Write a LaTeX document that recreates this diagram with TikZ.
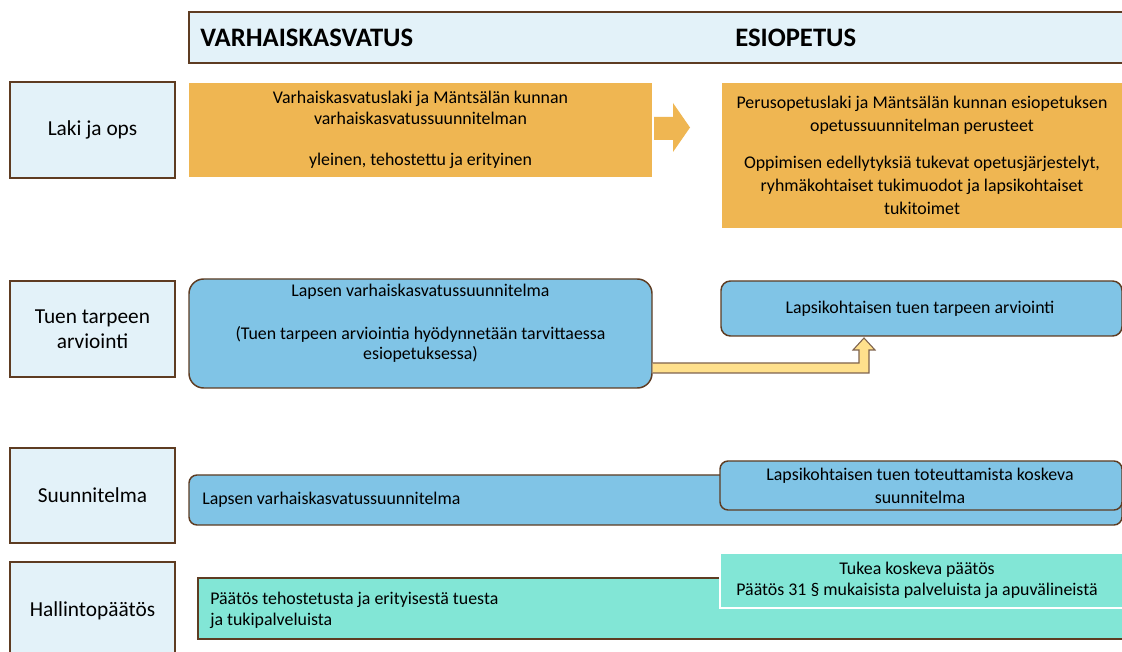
\documentclass[tikz,border=0pt]{standalone}
\usepackage{fontspec}
\setmainfont{Carlito}
\definecolor{hdr}{HTML}{E3F2F9}
\definecolor{org}{HTML}{EFB652}
\definecolor{blu}{HTML}{80C4E6}
\definecolor{tea}{HTML}{82E6D6}
\definecolor{yel}{HTML}{FFE08C}
\definecolor{brn}{HTML}{5E3C22}
\begin{document}
\begin{tikzpicture}[x=0.75pt,y=-0.75pt,
  lab/.style={draw=brn,fill=hdr,line width=1.1pt,inner sep=0pt,minimum width=123.75pt,
    align=center,font=\fontsize{16}{19}\selectfont},
  obox/.style={fill=org,inner sep=0pt},
  bbox/.style={draw=brn,fill=blu,line width=1.1pt,inner sep=0pt},
  tbox/.style={fill=tea,inner sep=0pt},
  body/.style={font=\fontsize{13.4}{17}\selectfont,inner sep=0pt},
  head/.style={font=\fontsize{20}{22}\selectfont\bfseries,inner sep=0pt,anchor=west}]
\useasboundingbox (0,0) rectangle (1122,652);
\clip (0,0) rectangle (1122,652);
\fill[white] (0,0) rectangle (1122,652);
% header
\node[draw=brn,fill=hdr,line width=1.1pt,inner sep=0pt,minimum width=705.75pt,minimum height=38.25pt] (hdr) at (659.5,37.5) {};
\node[head] (hv) at (200,38) {VARHAISKASVATUS};
\node[head] (he) at (735,38) {ESIOPETUS};
% left labels
\node[lab,minimum height=72pt] (L1) at (92.5,130) {Laki ja ops};
\node[lab,minimum height=72pt] (L2) at (92.5,329) {Tuen tarpeen\\arviointi};
\node[lab,minimum height=71.25pt] (L3) at (92.5,495.5) {Suunnitelma};
\node[lab,minimum height=73.5pt] (L4) at (92.5,611) {Hallintopäätös};
% row 1
\node[obox,minimum width=347.25pt,minimum height=70.5pt] (O1) at (420.5,130) {};
\node[body,align=center,font=\fontsize{13.4}{15.5}\selectfont] (O1t) at (420.5,130)
  {Varhaiskasvatuslaki ja Mäntsälän kunnan\\varhaiskasvatussuunnitelman\\[15.5pt]yleinen, tehostettu ja erityinen};
\fill[org] (654,117) -- (673,117) -- (673,103) -- (690,127.5) -- (673,152) -- (673,140) -- (654,140) -- cycle;
\node[obox,minimum width=300pt,minimum height=108.75pt] (O2) at (922,155.5) {};
\node[body,align=center] (O2t) at (922,155.5)
  {Perusopetuslaki ja Mäntsälän kunnan esiopetuksen\\opetussuunnitelman perusteet\\[11pt]Oppimisen edellytyksiä tukevat opetusjärjestelyt,\\ryhmäkohtaiset tukimuodot ja lapsikohtaiset\\tukitoimet};
% row 2
\node[bbox,rounded corners=11pt,minimum width=347.25pt,minimum height=81.75pt] (B1) at (420.5,333.5) {};
\node[body,align=center,font=\fontsize{13.4}{15}\selectfont] (B1t) at (420.5,323.5)
  {Lapsen varhaiskasvatussuunnitelma\\[17pt](Tuen tarpeen arviointia hyödynnetään tarvittaessa\\esiopetuksessa)};
\node[bbox,rounded corners=7pt,minimum width=300.75pt,minimum height=41.25pt] (B2) at (921.5,308.5) {};
\node[body] (B2t) at (920,309) {Lapsikohtaisen tuen tarpeen arviointi};
\coordinate (ys) at (B1.east |- 0,363);
\coordinate (ye) at (B1.east |- 0,373);
\draw[fill=yel,draw=brn!80,line width=0.8pt,line join=miter]
  (ys) -- (859,363) -- (859,350) -- (853,350) -- (864,338) -- (875,350) -- (869,350) -- (869,373) -- (ye);
% row 3
\node[bbox,rounded corners=6pt,minimum width=699.75pt,minimum height=37.5pt] (B3) at (655.5,500) {};
\node[body,anchor=west] (B3t) at (202,500) {Lapsen varhaiskasvatussuunnitelma};
\node[bbox,rounded corners=6pt,minimum width=301.5pt,minimum height=36.75pt] (B4) at (921,485.5) {};
\node[body,align=center] (B4t) at (920,486) {Lapsikohtaisen tuen toteuttamista koskeva\\suunnitelma};
% row 4
\node[tbox,draw=brn,line width=1.1pt,minimum width=699pt,minimum height=45.75pt] (T1) at (664,608.5) {};
\node[body,anchor=west,align=left,font=\fontsize{13.4}{15.5}\selectfont] (T1t) at (210,610.5) {Päätös tehostetusta ja erityisestä tuesta\\ja tukipalveluista};
\node[tbox,draw=white,line width=1.3pt,minimum width=303pt,minimum height=41.25pt] (T2) at (922,580.5) {};
\node[body,align=center,font=\fontsize{13.4}{15.5}\selectfont] (T2t) at (917,580.5) {Tukea koskeva päätös\\Päätös 31 § mukaisista palveluista ja apuvälineistä};
\end{tikzpicture}
\end{document}
